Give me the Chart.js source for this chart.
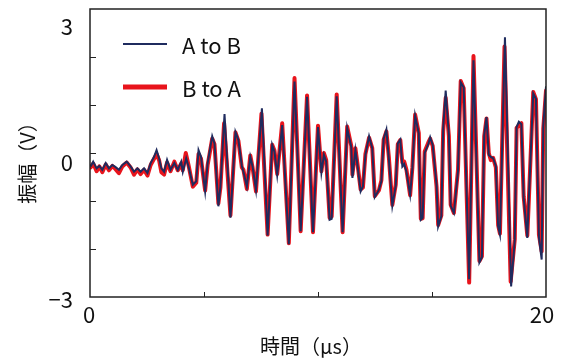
<!DOCTYPE html>
<html>
<head>
<meta charset="utf-8">
<script src="https://cdn.jsdelivr.net/npm/chart.js@4.4.0/dist/chart.umd.min.js"></script>
<style>
  html, body { margin: 0; padding: 0; background: #fff; }
  #wrap { width: 563px; height: 358px; }
</style>
</head>
<body>
<div id="wrap"><canvas id="chart"></canvas></div>
<script>
// waveform: time in µs, amplitude in V
const timeAB = [0.03,0.14,0.29,0.41,0.54,0.69,0.83,0.98,1.11,1.27,1.42,1.61,1.78,1.93,2.08,2.22,2.37,2.52,2.66,2.81,
  2.92,3.03,3.13,3.25,3.38,3.53,3.70,3.85,4.00,4.07,4.22,4.32,4.51,4.66,4.76,4.87,5.05,5.16,5.36,5.46,
  5.63,5.72,5.90,6.16,6.38,6.51,6.66,6.73,6.88,7.03,7.13,7.28,7.54,7.79,7.99,8.09,8.21,8.43,8.72,8.97,
  9.24,9.52,9.78,10.00,10.15,10.26,10.36,10.51,10.60,10.82,11.08,11.28,11.46,11.51,11.64,11.73,11.87,11.97,12.08,12.24,
  12.38,12.49,12.67,12.78,12.88,13.00,13.11,13.26,13.41,13.50,13.61,13.70,13.78,13.88,14.04,14.14,14.26,14.42,14.51,14.59,
  14.68,14.84,14.92,15.03,15.20,15.27,15.41,15.49,15.60,15.74,15.82,15.96,16.14,16.26,16.39,16.51,16.63,16.82,17.08,17.19,
  17.29,17.39,17.49,17.58,17.68,17.80,17.90,17.98,18.20,18.47,18.63,18.71,18.81,18.92,19.02,19.18,19.25,19.44,19.56,19.69,
  19.81,19.88,20.00];
const ampAB = [-0.28,-0.18,-0.32,-0.27,-0.35,-0.21,-0.32,-0.25,-0.29,-0.35,-0.25,-0.18,-0.28,-0.39,-0.32,-0.39,-0.32,-0.42,-0.21,-0.08,
  0.06,-0.11,-0.32,-0.39,-0.14,-0.35,-0.21,-0.35,-0.18,-0.39,-0.11,-0.28,-0.66,-0.59,0.06,-0.08,-0.80,-0.21,0.35,0.20,
  -1.11,-0.70,0.81,-1.35,0.44,0.27,-0.27,-0.39,-0.70,-0.08,-0.28,-0.77,0.93,-1.72,0.17,0.03,-0.46,0.58,-1.90,1.49,
  -1.63,1.17,-1.65,0.54,-0.41,-0.04,-0.18,-1.39,-1.37,1.18,-1.65,0.52,0.12,-0.52,0.06,-0.25,-0.80,-0.70,-0.04,0.35,
  0.10,-0.92,-0.77,-0.59,0.30,0.49,-0.14,-1.10,-0.68,0.20,0.28,-0.28,-0.23,-0.39,-0.87,-0.32,0.78,0.41,-1.39,-1.35,
  0.00,0.19,0.33,0.17,-0.66,-1.53,-1.32,0.51,1.30,0.39,-1.10,-1.25,-0.38,1.47,1.37,-0.66,-2.63,1.93,-2.28,-2.17,
  0.37,0.75,-0.04,-0.08,-0.11,-0.27,-1.53,-1.70,2.41,-2.78,-1.82,0.54,0.65,0.60,-0.93,-1.77,-0.93,1.24,1.13,-1.76,
  -2.22,0.56,1.39];

const timeBA = [0.03,0.14,0.29,0.41,0.54,0.69,0.83,0.98,1.11,1.27,1.42,1.61,1.78,1.93,2.08,2.22,2.37,2.52,2.66,2.81,
  2.92,3.03,3.13,3.25,3.38,3.53,3.70,3.85,4.00,4.07,4.20,4.32,4.51,4.66,4.76,4.87,5.05,5.16,5.36,5.46,
  5.63,5.72,5.88,6.16,6.38,6.51,6.66,6.73,6.88,7.03,7.13,7.28,7.52,7.79,7.99,8.09,8.21,8.43,8.72,8.97,
  9.24,9.52,9.78,10.00,10.15,10.26,10.36,10.51,10.60,10.82,11.08,11.28,11.46,11.51,11.64,11.73,11.87,11.97,12.08,12.24,
  12.38,12.49,12.67,12.78,12.88,13.00,13.11,13.26,13.41,13.50,13.61,13.70,13.78,13.88,14.04,14.14,14.26,14.42,14.51,14.59,
  14.68,14.84,14.92,15.03,15.20,15.27,15.41,15.49,15.60,15.74,15.82,15.96,16.14,16.26,16.39,16.51,16.63,16.82,17.08,17.19,
  17.29,17.39,17.49,17.58,17.68,17.80,17.90,17.98,18.18,18.45,18.63,18.71,18.81,18.92,19.02,19.18,19.25,19.44,19.56,19.69,
  19.81,19.88,20.00];
const ampBA = [-0.30,-0.22,-0.38,-0.28,-0.40,-0.24,-0.36,-0.27,-0.33,-0.42,-0.28,-0.20,-0.30,-0.45,-0.34,-0.44,-0.35,-0.47,-0.25,-0.12,
  -0.02,-0.15,-0.40,-0.45,-0.20,-0.38,-0.18,-0.36,-0.22,-0.36,0.00,-0.25,-0.70,-0.62,-0.02,-0.12,-0.78,-0.25,0.30,0.18,
  -1.05,-0.72,0.62,-1.30,0.43,0.25,-0.30,-0.35,-0.75,-0.05,-0.30,-0.80,0.82,-1.70,0.17,0.05,-0.44,0.62,-1.88,1.56,
  -1.63,1.20,-1.65,0.57,-0.38,0.00,-0.15,-1.35,-1.32,1.22,-1.65,0.55,0.15,-0.45,0.10,-0.22,-0.76,-0.72,-0.02,0.32,
  0.10,-0.90,-0.78,-0.57,0.28,0.45,-0.10,-1.08,-0.66,0.18,0.27,-0.20,-0.18,-0.35,-0.88,-0.30,0.80,0.42,-1.37,-1.36,
  0.03,0.22,0.30,0.15,-0.70,-1.50,-1.30,0.45,1.15,0.35,-1.08,-1.25,-0.35,1.50,1.35,-0.70,-2.70,2.02,-2.25,-2.15,
  0.35,0.72,0.00,-0.15,-0.10,-0.30,-1.50,-1.68,2.22,-2.68,-1.80,0.52,0.58,0.62,-0.90,-1.72,-0.95,1.27,1.12,-1.70,
  -2.05,0.50,1.30];

const seriesNames = ['A to B', 'B to A'];
const xLabelValues = [0, 20];
const yLabelValues = [-3, 0, 3];
const xTitle = '時間（µs）';
const yTitle = '振幅（V）';

const NAVY = '#1f2b5e';
const RED = '#e8141c';
const FONT = "'Noto Sans CJK JP', 'Noto Sans', sans-serif";

const toPoints = (ts, vs) => ts.map((t, i) => ({ x: t, y: vs[i] }));

// frame, inward tick marks, tick labels, axis titles and legend
const decor = {
  id: 'decor',
  afterDraw(chart) {
    const { ctx, chartArea: a, scales: { x, y } } = chart;
    ctx.save();
    ctx.strokeStyle = '#222';
    ctx.lineWidth = 1.5;
    ctx.strokeRect(a.left, a.top, a.right - a.left, a.bottom - a.top);

    ctx.lineWidth = 1;
    x.ticks.forEach(t => {
      if (t.value <= x.min || t.value >= x.max) return;
      const px = Math.round(x.getPixelForValue(t.value)) + 0.5;
      ctx.beginPath(); ctx.moveTo(px, a.bottom); ctx.lineTo(px, a.bottom - 5); ctx.stroke();
    });
    y.ticks.forEach(t => {
      if (t.value <= y.min || t.value >= y.max) return;
      const py = Math.round(y.getPixelForValue(t.value)) + 0.5;
      ctx.beginPath(); ctx.moveTo(a.left, py); ctx.lineTo(a.left + 6, py); ctx.stroke();
    });

    ctx.fillStyle = '#111';
    ctx.font = '22px ' + FONT;
    ctx.textBaseline = 'middle';
    ctx.textAlign = 'center';
    xLabelValues.forEach(v => {
      const shift = v === x.max ? -4 : -1;
      ctx.fillText(String(v), x.getPixelForValue(v) + shift, 315);
    });
    ctx.textAlign = 'right';
    const yShift = { '-3': 3, '0': 10, '3': 18 };
    yLabelValues.forEach(v => {
      const txt = v < 0 ? '\u2212' + Math.abs(v) : String(v);
      ctx.fillText(txt, 73, y.getPixelForValue(v) + yShift[String(v)]);
    });

    ctx.font = '20px ' + FONT;
    ctx.textAlign = 'center';
    ctx.fillText(xTitle, 311, 346);
    ctx.save();
    ctx.translate(27, 158);
    ctx.rotate(-Math.PI / 2);
    ctx.fillText(yTitle, 0, 0);
    ctx.restore();

    // legend
    const ds = chart.data.datasets;
    const rows = [44, 87];
    ctx.font = '22px ' + FONT;
    ctx.textAlign = 'left';
    ds.forEach((d, i) => {
      ctx.strokeStyle = d.borderColor;
      ctx.lineWidth = i === 0 ? 2.2 : 5;
      ctx.beginPath(); ctx.moveTo(123, rows[i]); ctx.lineTo(167, rows[i]); ctx.stroke();
      ctx.fillStyle = '#111';
      ctx.fillText(d.label, 182, rows[i] + 2);
    });
    ctx.restore();
  }
};

new Chart(document.getElementById('chart'), {
  type: 'line',
  data: {
    datasets: [
      { label: seriesNames[0], data: toPoints(timeAB, ampAB), borderColor: NAVY, borderWidth: 2, pointRadius: 0, tension: 0 },
      { label: seriesNames[1], data: toPoints(timeBA, ampBA), borderColor: RED, borderWidth: 4, pointRadius: 0, tension: 0,
        borderJoinStyle: 'round', borderCapStyle: 'round' }
    ]
  },
  options: {
    responsive: true,
    maintainAspectRatio: false,
    devicePixelRatio: 1,
    animation: false,
    layout: { padding: { top: 9, right: 17, left: 0, bottom: 0 } },
    plugins: { legend: { display: false }, tooltip: { enabled: false } },
    scales: {
      x: {
        type: 'linear', min: 0, max: 20,
        ticks: { display: false, stepSize: 5 },
        grid: { display: false },
        border: { display: false },
        afterFit: s => { s.height = 61; }
      },
      y: {
        min: -3, max: 3,
        ticks: { display: false, stepSize: 1 },
        grid: { display: false },
        border: { display: false },
        afterFit: s => { s.width = 90; }
      }
    }
  },
  plugins: [decor]
});
</script>
</body>
</html>
